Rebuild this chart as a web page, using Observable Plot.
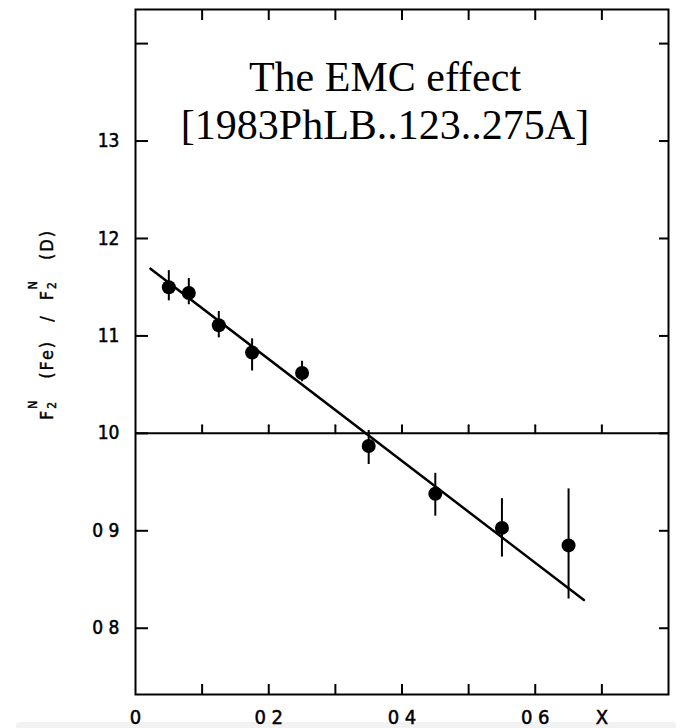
<!DOCTYPE html>
<html><head><meta charset="utf-8">
<script src="https://cdn.jsdelivr.net/npm/d3@7"></script>
<script src="https://cdn.jsdelivr.net/npm/@observablehq/plot@0.6"></script>
<style>
body{margin:0;background:#fff;}
#wrap{position:relative;width:684px;height:728px;overflow:hidden;}
#band{position:absolute;left:16px;top:722px;width:660px;height:8px;background:#f2f2f2;border-radius:3px;z-index:0}
#chart{position:absolute;left:0;top:0;z-index:1}
</style></head><body>
<div id="wrap"><div id="band"></div><div id="chart"></div></div>
<script>
// data
const xBins   = [0.05, 0.08, 0.125, 0.175, 0.25, 0.35, 0.45, 0.55, 0.65];
const ratio   = [1.150, 1.144, 1.111, 1.083, 1.062, 0.987, 0.938, 0.903, 0.885];
const ratioHi = [1.167, 1.159, 1.125, 1.097, 1.074, 1.003, 0.959, 0.933, 0.943];
const ratioLo = [1.136, 1.132, 1.098, 1.064, 1.053, 0.968, 0.915, 0.873, 0.830];
const fitX = [0.0225, 0.673];
const fitY = [1.169, 0.829];
const xTickValues = [0, 0.2, 0.4, 0.6, 0.7];
const xTickLabels = ["0", "0 2", "0 4", "0 6", "X"];
const xMinorTicks = [0.1, 0.2, 0.3, 0.4, 0.5, 0.6, 0.7];
const yTickValues = [1.3, 1.2, 1.1, 1.0, 0.9, 0.8];
const yTickLabels = ["13", "12", "11", "10", "0 9", "0 8"];
const yMinorTicks = [0.8, 0.9, 1.0, 1.1, 1.2, 1.3, 1.4];
const refLevel = [1.0];
const titleLines = ["The EMC effect", "[1983PhLB..123..275A]"];

const points = xBins.map((x, i) => ({x, y: ratio[i], hi: ratioHi[i], lo: ratioLo[i]}));
const fit = fitX.map((x, i) => ({x, y: fitY[i]}));
const tickFont = "'DejaVu Sans Condensed', 'DejaVu Sans', sans-serif";
const upTick = {draw(ctx, l) { ctx.moveTo(0, 0); ctx.lineTo(0, -l); }};

const chart = Plot.plot({
  width: 684, height: 728,
  marginLeft: 135, marginRight: 16, marginTop: 9, marginBottom: 34,
  style: {background: "transparent", fontFamily: tickFont, fontSize: "19px", color: "#000"},
  x: {domain: [0, 0.8], axis: null},
  y: {domain: [0.732, 1.435], axis: null},
  marks: [
    Plot.frame({stroke: "#000", strokeWidth: 2}),
    Plot.axisX({anchor: "bottom", ticks: xMinorTicks, tickSize: -10, tickFormat: () => "", label: null, strokeWidth: 2}),
    Plot.axisX({anchor: "top", ticks: xMinorTicks, tickSize: -10, tickFormat: () => "", label: null, strokeWidth: 2}),
    Plot.axisY({anchor: "left", ticks: yMinorTicks, tickSize: -13, tickFormat: () => "", label: null, strokeWidth: 2}),
    Plot.axisY({anchor: "right", ticks: yMinorTicks, tickSize: -10, tickFormat: () => "", label: null, strokeWidth: 2}),
    Plot.axisX({anchor: "bottom", ticks: xTickValues, tickSize: 0, tickPadding: 15,
      tickFormat: d => xTickLabels[xTickValues.indexOf(d)], label: null, fontSize: 20}),
    Plot.axisY({anchor: "left", ticks: yTickValues, tickSize: 0, tickPadding: 16,
      tickFormat: d => yTickLabels[yTickValues.indexOf(d)], label: null, fontSize: 19}),
    Plot.ruleY(refLevel, {stroke: "#000", strokeWidth: 2}),
    Plot.vector(xMinorTicks, {x: d => d, y: () => refLevel[0], length: 8, rotate: 0, anchor: "start",
      shape: upTick, stroke: "#000", strokeWidth: 2}),
    Plot.line(fit, {x: "x", y: "y", stroke: "#000", strokeWidth: 2.5}),
    Plot.ruleX(points, {x: "x", y1: "lo", y2: "hi", stroke: "#000", strokeWidth: 2}),
    Plot.dot(points, {x: "x", y: "y", r: 7, fill: "#000"}),
    Plot.text([titleLines.join("\n")], {text: d => d, frameAnchor: "top", dx: -17, dy: 129,
      lineAnchor: "bottom", lineHeight: 1.143, fontSize: 42,
      fontFamily: "'Liberation Serif', 'Times New Roman', serif", fill: "#000"})
  ]
});
document.getElementById("chart").appendChild(chart);

// slightly heavier tick labels, like the scanned original
d3.select(chart).selectAll("g[aria-label='x-axis tick label'] text, g[aria-label='y-axis tick label'] text")
  .style("stroke", "#000").style("stroke-width", "0.5px");

// rotated y-axis label with stacked sub/superscripts
const yl = d3.select(chart).append("text")
  .attr("transform", "translate(53,324.5) rotate(-90)")
  .attr("text-anchor", "middle")
  .style("font-family", tickFont)
  .style("font-size", "18px")
  .style("letter-spacing", "2px")
  .style("fill", "#000")
  .style("stroke", "#000")
  .style("stroke-width", "0.4px");
const parts = [
  {t: "F"}, {t: "2", fs: 12, dy: 3}, {t: "N", fs: 12, dx: -9, dy: -19},
  {t: "(Fe)", dy: 16, dx: 20},
  {t: "/", dx: 18},
  {t: "F", dx: 14}, {t: "2", fs: 12, dy: 3}, {t: "N", fs: 12, dx: -9, dy: -19},
  {t: "(D)", dy: 16, dx: 19}
];
parts.forEach(p => {
  const s = yl.append("tspan").text(p.t);
  if (p.fs) s.style("font-size", p.fs + "px");
  if (p.dx) s.attr("dx", p.dx);
  if (p.dy) s.attr("dy", p.dy);
});
</script>
</body></html>
